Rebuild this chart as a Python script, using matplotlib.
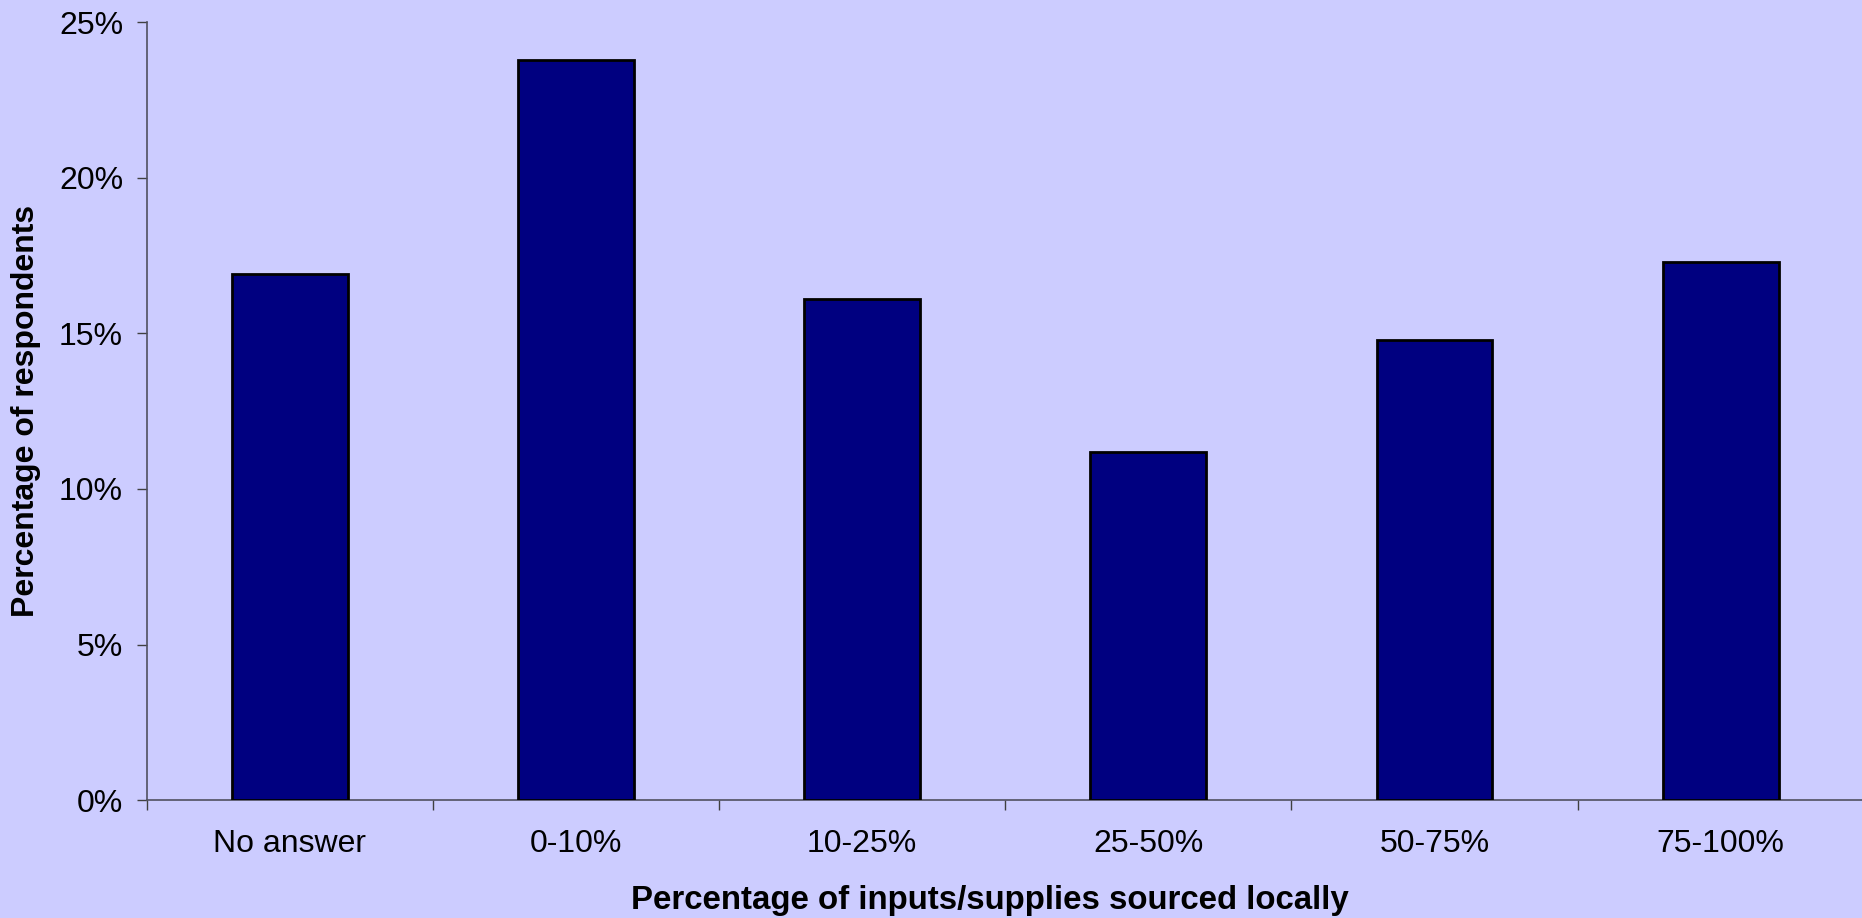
import numpy as np
import matplotlib
matplotlib.use("Agg")
import matplotlib.pyplot as plt
from matplotlib.ticker import FixedLocator, FuncFormatter

categories = ["No answer", "0-10%", "10-25%", "25-50%", "50-75%", "75-100%"]
shares = [16.9, 23.8, 16.1, 11.2, 14.8, 17.3]  # percent of respondents

bg = "#CCCCFF"
plt.rcParams["font.family"] = ["Liberation Sans", "DejaVu Sans"]

fig = plt.figure(figsize=(18.62, 9.18), dpi=100, facecolor=bg)
ax = fig.add_axes([146.7 / 1862, 118 / 918, 1717 / 1862, 777.5 / 918])
ax.set_facecolor(bg)

x = np.arange(len(categories))
ax.bar(x, shares, width=0.405, color="#000080", edgecolor="black", linewidth=2, zorder=3)

ax.set_xlim(-0.5, len(categories) - 0.5)
ax.set_ylim(0, 25)

ax.set_xticks(x)
ax.set_xticklabels(categories)
ax.xaxis.set_minor_locator(FixedLocator(np.arange(-0.5, len(categories), 1.0)))
ax.tick_params(axis="x", which="major", length=0, pad=21, labelsize=23)
ax.tick_params(axis="x", which="minor", length=7, width=1, color="#404040")

ax.set_yticks(np.arange(0, 26, 5))
ax.yaxis.set_major_formatter(FuncFormatter(lambda v, p: f"{v:.0f}%"))
ax.tick_params(axis="y", length=7, width=1, color="#404040", pad=10, labelsize=23)

for s in ["top", "right"]:
    ax.spines[s].set_visible(False)
for s in ["left", "bottom"]:
    ax.spines[s].set_color("#505060")
    ax.spines[s].set_linewidth(1.2)

fig.text(26 / 1862, 1 - 411 / 918, "Percentage of respondents", rotation=90,
         ha="center", va="center", fontsize=23, fontweight="bold")
fig.text(990 / 1862, 1 - 900 / 918, "Percentage of inputs/supplies sourced locally",
         ha="center", va="center", fontsize=23.8, fontweight="bold")

fig.savefig("out.png", dpi=100, facecolor=bg)
